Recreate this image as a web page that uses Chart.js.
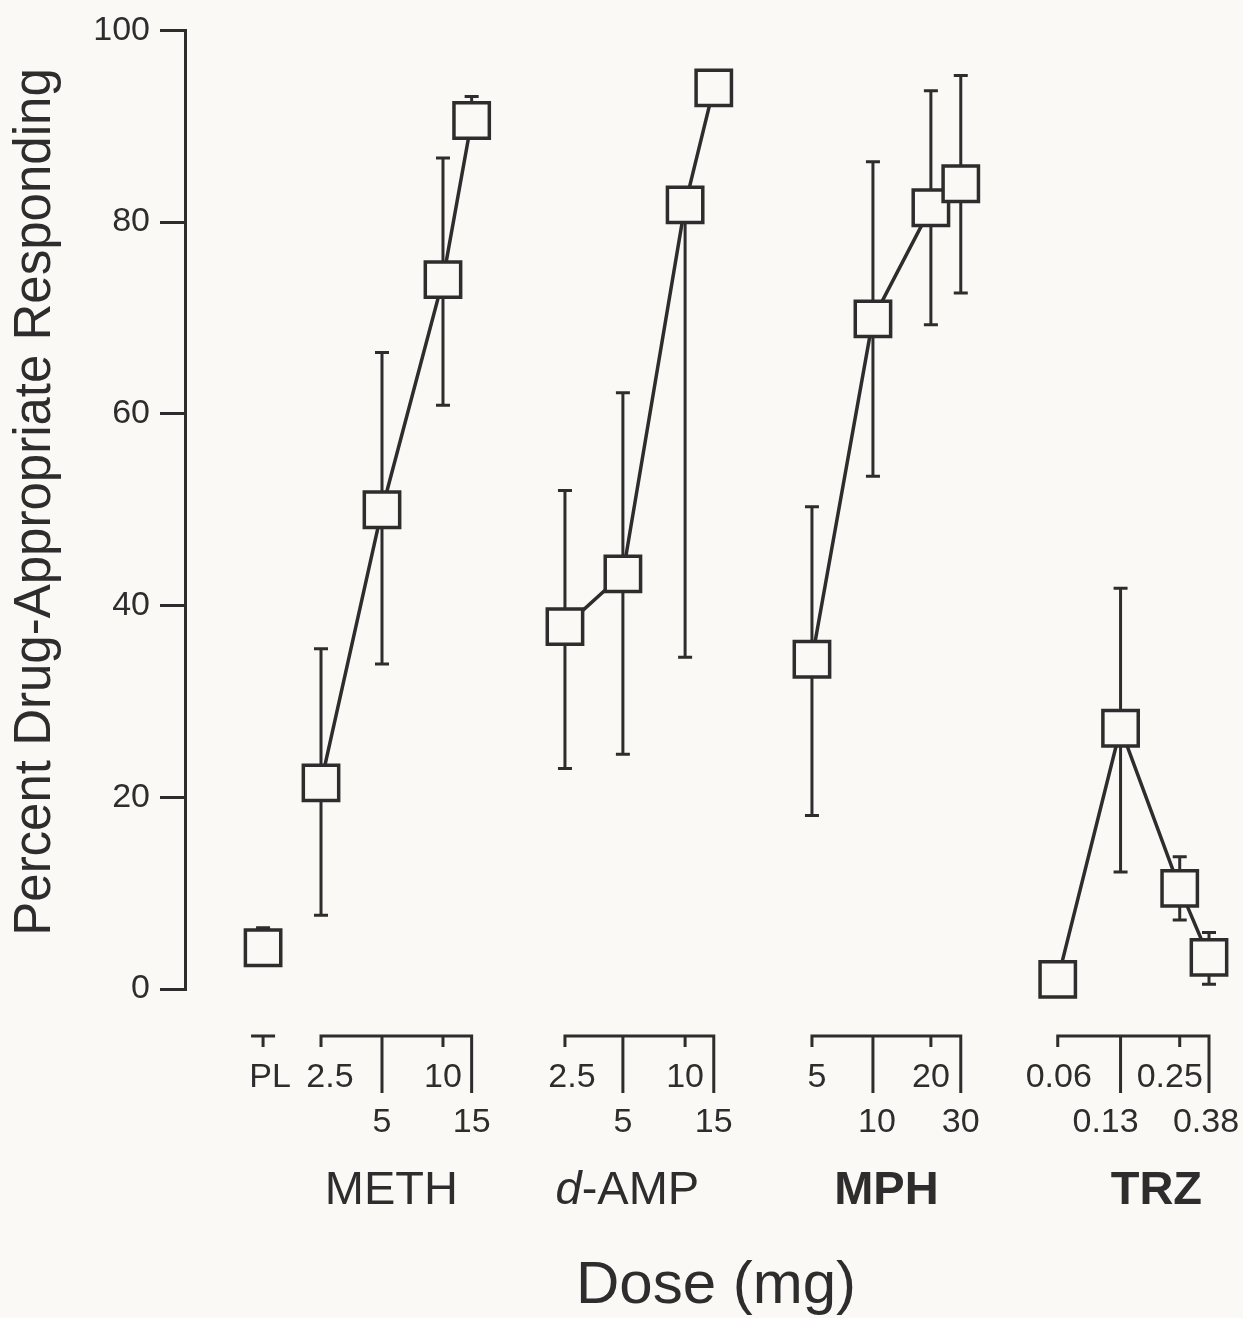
<!DOCTYPE html>
<html><head><meta charset="utf-8">
<script src="https://cdn.jsdelivr.net/npm/chart.js@4"></script>
<style>html,body{margin:0;padding:0;background:#fbf9f6;overflow:hidden}</style>
</head><body>
<canvas id="c" width="1243" height="1318" style="display:block;width:1243px;height:1318px"></canvas>
<script>
// ---------- DATA ----------
const yTicks = [0, 20, 40, 60, 80, 100];
const groupNames = ['METH', 'd-AMP', 'MPH', 'TRZ'];

const plLabels = ['PL'];
const plPos = [1.28];
const plMean = [4.3];
const plLo = [null];
const plHi = [6.4];

const methLabels = ['2.5', '5', '10', '15'];
const methPos = [2.23, 3.23, 4.23, 4.70];
const methMean = [21.5, 50.0, 74.0, 90.6];
const methLo = [7.7, 33.9, 60.9, null];
const methHi = [35.5, 66.4, 86.7, 93.1];

const dampLabels = ['2.5', '5', '10', '15'];
const dampPos = [6.23, 7.18, 8.20, 8.67];
const dampMean = [37.8, 43.3, 81.8, 94.0];
const dampLo = [23.0, 24.5, 34.6, null];
const dampHi = [52.0, 62.2, null, null];

const mphLabels = ['5', '10', '20', '30'];
const mphPos = [10.28, 11.28, 12.23, 12.72];
const mphMean = [34.4, 69.9, 81.5, 84.0];
const mphLo = [18.1, 53.5, 69.3, 72.6];
const mphHi = [50.3, 86.3, 93.7, 95.3];

const trzLabels = ['0.06', '0.13', '0.25', '0.38'];
const trzPos = [14.31, 15.34, 16.31, 16.79];
const trzMean = [1.0, 27.2, 10.5, 3.3];
const trzLo = [null, 12.2, 7.2, 0.5];
const trzHi = [null, 41.8, 13.8, 5.9];

// ---------- STYLE ----------
const INK = '#2d2d2d';
const BG = '#fbf9f6';
const FONT = '"Liberation Sans", Arial, Helvetica, sans-serif';

function pts(pos, mean) { return pos.map((p, i) => ({ x: p, y: mean[i] })); }

const series = [
  { name: 'PL', labels: plLabels, pos: plPos, mean: plMean, lo: plLo, hi: plHi, line: false },
  { name: 'METH', labels: methLabels, pos: methPos, mean: methMean, lo: methLo, hi: methHi, line: true },
  { name: 'd-AMP', labels: dampLabels, pos: dampPos, mean: dampMean, lo: dampLo, hi: dampHi, line: true },
  { name: 'MPH', labels: mphLabels, pos: mphPos, mean: mphMean, lo: mphLo, hi: mphHi, line: true },
  { name: 'TRZ', labels: trzLabels, pos: trzPos, mean: trzMean, lo: trzLo, hi: trzHi, line: true }
];

// layout-only settings (pixels)
const BRACKET_Y = 1036, SHORT_TICK = 11, LONG_TICK = 57;
const ROW1_BASE = 1087, ROW2_BASE = 1132, GROUP_BASE = 1204;
const labelNudge = { 'PL': [7], 'METH': [9, 0, 0, 0], 'd-AMP': [7, 0, 0, 0], 'MPH': [5, 4, 0, 0], 'TRZ': [1, -15, -10, -3] };
const groupNudge = { 'METH': -5, 'd-AMP': -12, 'MPH': 0, 'TRZ': 23 };
const groupBold = { 'METH': false, 'd-AMP': false, 'MPH': true, 'TRZ': true };

const bgPlugin = {
  id: 'bg',
  beforeDraw(chart) {
    const c = chart.ctx; c.save(); c.fillStyle = BG; c.fillRect(0, 0, chart.width, chart.height); c.restore();
  }
};

const errPlugin = {
  id: 'errbars',
  beforeDatasetsDraw(chart) {
    const c = chart.ctx, xs = chart.scales.x, ys = chart.scales.y;
    c.save(); c.strokeStyle = INK; c.lineWidth = 3; c.lineCap = 'butt';
    series.forEach(s => {
      s.pos.forEach((p, i) => {
        const x = xs.getPixelForValue(p), ym = ys.getPixelForValue(s.mean[i]);
        [s.lo[i], s.hi[i]].forEach(v => {
          if (v === null || v === undefined) return;
          const y = ys.getPixelForValue(v);
          c.beginPath(); c.moveTo(x, ym); c.lineTo(x, y);
          c.moveTo(x - 7, y); c.lineTo(x + 7, y); c.stroke();
        });
      });
    });
    c.restore();
  }
};

const axisPlugin = {
  id: 'doseAxes',
  afterDraw(chart) {
    const c = chart.ctx, xs = chart.scales.x, ys = chart.scales.y;
    c.save();
    c.strokeStyle = INK; c.fillStyle = INK; c.lineWidth = 3; c.lineCap = 'butt';
    c.font = '34px ' + FONT; c.textAlign = 'center'; c.textBaseline = 'alphabetic';
    series.forEach(s => {
      const px = s.pos.map(p => xs.getPixelForValue(p));
      c.beginPath();
      if (s.name === 'PL') {
        c.moveTo(px[0] - 12, BRACKET_Y); c.lineTo(px[0] + 12, BRACKET_Y);
        c.moveTo(px[0], BRACKET_Y); c.lineTo(px[0], BRACKET_Y + SHORT_TICK);
      } else {
        c.moveTo(px[0], BRACKET_Y); c.lineTo(px[px.length - 1], BRACKET_Y);
        px.forEach((x, i) => { c.moveTo(x, BRACKET_Y - 1.5); c.lineTo(x, BRACKET_Y + (i % 2 ? LONG_TICK : SHORT_TICK)); });
      }
      c.stroke();
      s.labels.forEach((t, i) => {
        const nud = (labelNudge[s.name] || [])[i] || 0;
        c.fillText(t, px[i] + nud, i % 2 ? ROW2_BASE : ROW1_BASE);
      });
      if (s.name !== 'PL') {
        const mid = (px[0] + px[px.length - 1]) / 2 + (groupNudge[s.name] || 0);
        const weight = groupBold[s.name] ? 'bold ' : '';
        if (s.name === 'd-AMP') {
          c.font = 'italic 47px ' + FONT; const w1 = c.measureText('d').width;
          c.font = '47px ' + FONT; const w2 = c.measureText('-AMP').width;
          const x0 = mid - (w1 + w2) / 2;
          c.textAlign = 'left';
          c.font = 'italic 47px ' + FONT; c.fillText('d', x0, GROUP_BASE);
          c.font = '47px ' + FONT; c.fillText('-AMP', x0 + w1, GROUP_BASE);
          c.textAlign = 'center';
        } else {
          c.font = weight + '47px ' + FONT; c.fillText(s.name, mid, GROUP_BASE);
        }
        c.font = '34px ' + FONT;
      }
    });
    // x title
    c.font = '60px ' + FONT; c.textAlign = 'center';
    c.fillText('Dose (mg)', 716, 1303);
    // y title
    c.save();
    c.translate(50, 502);
    c.rotate(-Math.PI / 2);
    c.font = '51px ' + FONT; c.textAlign = 'center'; c.textBaseline = 'alphabetic';
    c.fillText('Percent Drug-Appropriate Responding', 0, 0);
    c.restore();
    c.restore();
  }
};

const datasets = series.map(s => ({
  label: s.name,
  data: pts(s.pos, s.mean),
  showLine: s.line,
  borderColor: INK,
  borderWidth: 3.5,
  pointStyle: 'rect',
  pointRadius: 25,
  pointHoverRadius: 25,
  pointBorderWidth: 3.5,
  pointBorderColor: INK,
  pointBackgroundColor: BG,
  tension: 0,
  clip: false
}));

new Chart(document.getElementById('c'), {
  type: 'scatter',
  data: { datasets },
  options: {
    responsive: false,
    animation: false,
    devicePixelRatio: 1,
    layout: { autoPadding: false, padding: { top: 28, right: 9, bottom: 329, left: 0 } },
    plugins: { legend: { display: false }, tooltip: { enabled: false } },
    scales: {
      x: { type: 'linear', min: 0, max: 17.2, display: false },
      y: {
        type: 'linear', min: 0, max: 100,
        afterFit(scale) { scale.width = 185; },
        afterBuildTicks(scale) { scale.ticks = yTicks.map(v => ({ value: v })); },
        border: { display: true, color: INK, width: 3 },
        grid: { drawOnChartArea: false, drawTicks: true, tickLength: 25, color: INK, lineWidth: 3 },
        ticks: { color: INK, font: { size: 34, family: FONT }, padding: 10 }
      }
    }
  },
  plugins: [bgPlugin, errPlugin, axisPlugin]
});
</script>
</body></html>
